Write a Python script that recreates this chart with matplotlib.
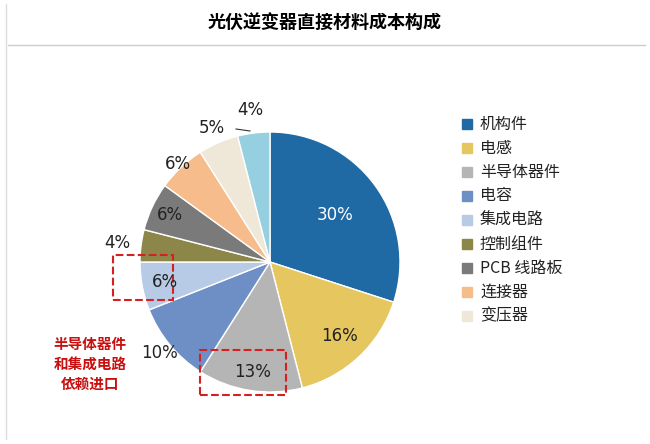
import matplotlib
matplotlib.use("Agg")
import matplotlib.pyplot as plt
from matplotlib.patches import Rectangle
import numpy as np

plt.rcParams["font.family"] = ["Noto Sans CJK SC", "Noto Sans CJK JP", "DejaVu Sans"]

categories = ["机构件", "电感", "半导体器件", "电容", "集成电路", "控制组件", "PCB 线路板", "连接器", "变压器", "其他"]
values = [30, 16, 13, 10, 6, 4, 6, 6, 5, 4]
labels = ["30%", "16%", "13%", "10%", "6%", "4%", "6%", "6%", "5%", "4%"]
colors = ["#1f6aa5", "#e5c65f", "#b5b5b5", "#6e8fc6", "#b7cbe6", "#8c8748", "#7a7a7a", "#f7bc8b", "#efe7d8", "#95cfe0"]
label_r = [0.62, 0.78, 0.86, 1.1, 0.82, 1.18, 0.85, 1.03, 1.12, 1.18]

fig = plt.figure(figsize=(6.5, 4.44), dpi=100)
ax = fig.add_axes([0, 0, 1, 1])

cx, cy, R = 270, 182, 130
wedges, _ = ax.pie(values, colors=colors, startangle=90, counterclock=False, center=(cx, cy),
                   radius=R, wedgeprops=dict(edgecolor="white", linewidth=1), frame=True)
ax.set_xlim(0, 650); ax.set_ylim(0, 444); ax.set_aspect("equal"); ax.axis("off")
for w, lab, rr in zip(wedges, labels, label_r):
    a = np.deg2rad((w.theta1 + w.theta2) / 2)
    ax.text(cx + R * rr * np.cos(a), cy + R * rr * np.sin(a), lab, ha="center", va="center",
            fontsize=12, color="white" if lab == "30%" and rr < 0.7 else "#222222",
            fontfamily="DejaVu Sans")

ax.text(325, 422, "光伏逆变器直接材料成本构成", ha="center", va="center", fontsize=13,
        fontweight="bold")
ax.plot([8, 645], [399, 399], color="#cccccc", lw=1)
ax.plot([6, 6], [5, 440], color="#dddddd", lw=1)

for i in range(9):
    y = 444 - (124 + 24 * i)
    ax.add_patch(Rectangle((462, y - 5), 10, 10, color=colors[i]))
    ax.text(480, y, categories[i], va="center", fontsize=11.5, color="#222222")

for (x0, y0, x1, y1) in [(113, 255, 173, 300), (200, 350, 286, 395)]:
    ax.add_patch(Rectangle((x0, 444 - y1), x1 - x0, y1 - y0, fill=False, ec="#d42020", ls="--", lw=1.5))

ax.text(90, 80, "半导体器件\n和集成电路\n依赖进口", ha="center", va="center", fontsize=10.5,
        color="#c81010", fontweight="bold", linespacing=1.3)
ax.plot([236, 250], [444 - 129, 444 - 131], color="#333333", lw=0.8)
fig.savefig("out.png", dpi=100)
